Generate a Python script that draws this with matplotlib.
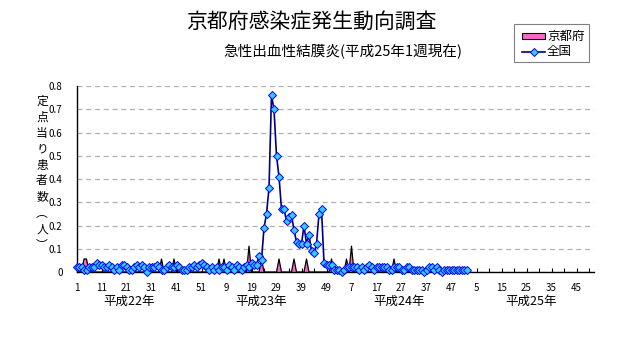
import numpy as np
import matplotlib
matplotlib.use('Agg')
import matplotlib.pyplot as plt
from matplotlib.patches import Rectangle
from matplotlib.lines import Line2D

plt.rcParams['font.family'] = ['Noto Sans CJK JP', 'DejaVu Sans']

# weekly reports per sentinel site, whole country
zenkoku_h22 = [0.02, 0.02, 0.02, 0.01, 0.01, 0.02, 0.02, 0.02, 0.04, 0.03,
               0.03, 0.02, 0.02, 0.03, 0.02, 0.01, 0.02, 0.01, 0.03, 0.03,
               0.02, 0.01, 0.01, 0.02, 0.03, 0.02, 0.03, 0.02, 0.00, 0.02,
               0.02, 0.02, 0.03, 0.02, 0.01, 0.01, 0.02, 0.03, 0.02, 0.02,
               0.03, 0.02, 0.01, 0.01, 0.01, 0.02, 0.02, 0.03, 0.02, 0.03,
               0.04, 0.03]
zenkoku_h23 = [0.02, 0.01, 0.02, 0.01, 0.02, 0.01, 0.02, 0.02, 0.01, 0.03,
               0.02, 0.01, 0.03, 0.02, 0.01, 0.02, 0.03, 0.02, 0.04, 0.03,
               0.03, 0.07, 0.05, 0.19, 0.25, 0.36, 0.76, 0.70, 0.50, 0.41,
               0.27, 0.27, 0.22, 0.235, 0.245, 0.18, 0.13, 0.12, 0.12, 0.20,
               0.12, 0.16, 0.09, 0.08, 0.12, 0.25, 0.27, 0.04, 0.03, 0.03,
               0.03, 0.01]
zenkoku_h24 = [0.01, 0.01, 0.00, 0.01, 0.02, 0.02, 0.02, 0.02, 0.02, 0.01,
               0.02, 0.01, 0.02, 0.03, 0.02, 0.01, 0.02, 0.02, 0.02, 0.02,
               0.02, 0.01, 0.01, 0.02, 0.02, 0.02, 0.01, 0.01, 0.02, 0.02,
               0.01, 0.01, 0.01, 0.01, 0.01, 0.00, 0.01, 0.02, 0.02, 0.01,
               0.02, 0.01, 0.00, 0.01, 0.01, 0.01, 0.01, 0.01, 0.01, 0.01,
               0.01, 0.01]
zenkoku_h25 = [0.01]

# Kyoto: only the weeks with reports (year index, week, value)
kyoto_year = [0, 0, 0, 0, 1, 1, 1, 1, 1, 1, 1, 1, 2, 2, 2]
kyoto_week = [4, 5, 35, 40, 6, 8, 18, 23, 30, 36, 41, 51, 5, 7, 24]
kyoto_val = [0.056, 0.056, 0.056, 0.056, 0.056, 0.056, 0.111, 0.056,
             0.056, 0.056, 0.056, 0.056, 0.056, 0.111, 0.056]

years = ['平成22年', '平成23年', '平成24年', '平成25年']
year_label_pos = [21, 74, 129, 182]
weeks_per_year = 52

zenkoku = np.array(zenkoku_h22 + zenkoku_h23 + zenkoku_h24 + zenkoku_h25)
n = len(zenkoku)
kyoto = np.zeros(n)
for yi, wk, v in zip(kyoto_year, kyoto_week, kyoto_val):
    kyoto[yi * weeks_per_year + wk - 1] = v
x = np.arange(n)

W, H = 632, 348
def fx(px):
    return px / W
def fy(py):
    return 1 - py / H

fig = plt.figure(figsize=(W / 100, H / 100), dpi=100)
ax = fig.add_axes([fx(76.5), fy(272), (594 - 76.5) / W, (272 - 86) / H])

ax.fill_between(x, 0, kyoto, facecolor='#FF66CC', edgecolor='none', zorder=2)
ax.plot(x, kyoto, color='black', lw=0.9, zorder=2)
ax.plot(x, zenkoku, color='#000080', lw=1.2, marker='D', ms=4.5,
        mfc='#33CCFF', mec='#0000FF', mew=0.7, clip_on=False, zorder=3)

ax.set_xlim(0, 4 * weeks_per_year - 1)
ax.set_ylim(0, 0.8)
yt = np.round(np.arange(0, 0.81, 0.1), 1)
ax.set_yticks(yt)
ax.set_yticklabels(['0'] + ['%.1f' % v for v in yt[1:]], fontsize=7)
ax.yaxis.grid(True, color='#B0B0B0', ls=(0, (4, 3)), lw=0.9)
ax.set_axisbelow(True)

xt = list(range(0, 4 * weeks_per_year, 10))
ax.set_xticks(xt)
ax.set_xticklabels([str(i % weeks_per_year + 1) for i in xt], fontsize=7)
ax.set_xticks(range(0, 4 * weeks_per_year, 5), minor=True)
ax.tick_params(axis='x', which='both', direction='in', length=3, width=0.8, pad=8)
ax.tick_params(axis='y', length=0, pad=10)

for s in ['top', 'right']:
    ax.spines[s].set_visible(False)
for s in ['left', 'bottom']:
    ax.spines[s].set_linewidth(1.0)
    ax.spines[s].set_color('black')

for pos, name in zip(year_label_pos, years):
    ax.text(pos, -0.16, name, transform=ax.get_xaxis_transform(),
            ha='center', va='center', fontsize=9)

fig.text(fx(311), fy(22), '京都府感染症発生動向調査', ha='center', va='center', fontsize=15)
fig.text(fx(342.5), fy(52), '急性出血性結膜炎(平成25年1週現在)', ha='center', va='center', fontsize=10.5)

# vertical axis title, one character per line
ylab = ['定', '点', '当', 'り', '患', '者', '数', '︵', '人', '︶']
for i, ch in enumerate(ylab):
    fig.text(fx(42), fy(101 + i * 16), ch, ha='center', va='center', fontsize=8.5)

# legend box
fig.patches.append(Rectangle((fx(514), fy(62)), 75 / W, 38 / H, transform=fig.transFigure,
                             facecolor='white', edgecolor='#808080', lw=0.8))
fig.patches.append(Rectangle((fx(522), fy(39)), 23 / W, 6 / H, transform=fig.transFigure,
                             facecolor='#FF66CC', edgecolor='black', lw=0.8, zorder=3))
fig.lines.append(Line2D([fx(522), fx(545)], [fy(51.5), fy(51.5)], transform=fig.transFigure,
                        color='#000080', lw=1.2, zorder=3))
fig.lines.append(Line2D([fx(533.5)], [fy(51.5)], transform=fig.transFigure, ls='none',
                        marker='D', ms=4.5, mfc='#33CCFF', mec='#0000FF', mew=0.7, zorder=4))
fig.text(fx(547), fy(36.5), '京都府', ha='left', va='center', fontsize=9)
fig.text(fx(547), fy(51.5), '全国', ha='left', va='center', fontsize=9)

fig.savefig('out.png', dpi=100)
